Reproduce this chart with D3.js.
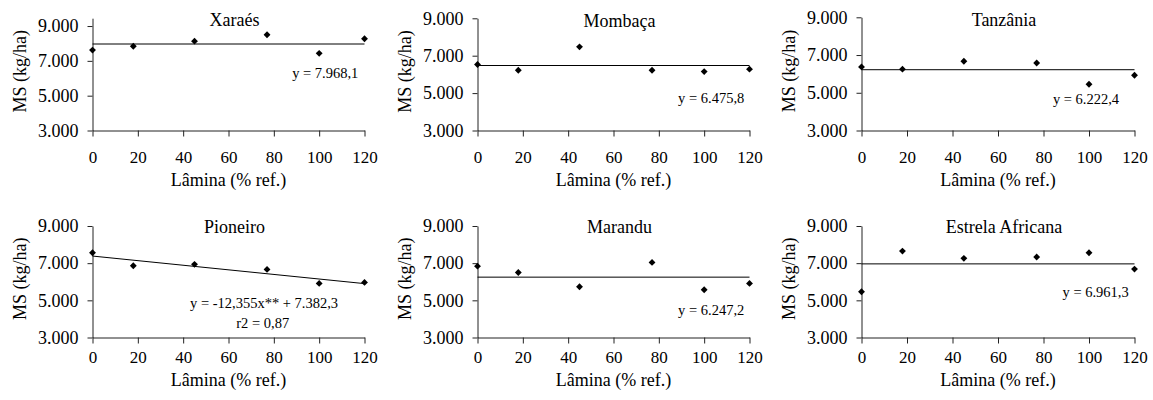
<!DOCTYPE html>
<html>
<head>
<meta charset="utf-8">
<script src="https://cdn.jsdelivr.net/npm/d3@7"></script>
<style>
  body { margin: 0; background: #fff; }
  svg text { font-family: "Liberation Serif", "Times New Roman", serif; fill: #000; }
</style>
</head>
<body>
<div id="graph"></div>
<script>
// lamina de irrigacao (% ref.) e producao de MS (kg/ha) por cultivar
var lamina = [0, 18, 45, 77, 100, 120];
var xTicks = [0, 20, 40, 60, 80, 100, 120];
var yTicks = [3000, 5000, 7000, 9000];
var cultivares = ["Xaraés", "Mombaça", "Tanzânia", "Pioneiro", "Marandu", "Estrela Africana"];

var xaraes   = [7620, 7840, 8130, 8500, 7430, 8270];
var mombaca  = [6530, 6220, 7475, 6220, 6150, 6280];
var tanzania = [6370, 6250, 6670, 6580, 5450, 5930];
var pioneiro = [7560, 6860, 6935, 6665, 5910, 5965];
var marandu  = [6840, 6500, 5730, 7040, 5570, 5910];
var estrela  = [5460, 7650, 7260, 7330, 7560, 6680];
var series = [xaraes, mombaca, tanzania, pioneiro, marandu, estrela];

// ajuste: y = a + b*x
var intercepto = [7968.1, 6475.8, 6222.4, 7382.3, 6247.2, 6961.3];
var inclinacao = [0, 0, 0, -12.355, 0, 0];
var equacoes = [
  ["y = 7.968,1"],
  ["y = 6.475,8"],
  ["y = 6.222,4"],
  ["y = -12,355x** + 7.382,3", "r2 = 0,87"],
  ["y = 6.247,2"],
  ["y = 6.961,3"]
];

// posicao dos paineis e das equacoes (coordenadas de dados para as equacoes)
var layout = [
  {x0: 92.5,  x1: 364.5,  yTop: 18.2,  yBot: 130.5, topVal: 9450, titleY: 26,  tickPad: 14, labelY: 185.5},
  {x0: 477.5, x1: 749.5,  yTop: 18.3,  yBot: 130.5, topVal: 9000, titleY: 26.5, tickPad: 14, labelY: 185.5},
  {x0: 861.5, x1: 1134.5, yTop: 17.3,  yBot: 130.5, topVal: 9000, titleY: 26,  tickPad: 14, labelY: 185.5},
  {x0: 92.5,  x1: 364.5,  yTop: 226,   yBot: 337.5, topVal: 9000, titleY: 233, tickPad: 7,  labelY: 386},
  {x0: 477.5, x1: 749.5,  yTop: 226,   yBot: 337.5, topVal: 9000, titleY: 233, tickPad: 7,  labelY: 386},
  {x0: 861.5, x1: 1134.5, yTop: 226,   yBot: 337.5, topVal: 9000, titleY: 233, tickPad: 7,  labelY: 386}
];
var eqPos = [
  [[102.7, 6020]],
  [[103.1, 4450]],
  [[98.7, 4384]],
  [[75.7, 4563], [75.1, 3485]],
  [[103.1, 4202]],
  [[102.9, 5156]]
];

var width = 1153, height = 400;
var br = d3.formatLocale({decimal: ",", thousands: ".", grouping: [3], currency: ["", ""]});
var fmtY = br.format(",d");

var svg = d3.select("#graph").append("svg")
  .attr("width", width)
  .attr("height", height);

var estiloEixo = function (a, size) {
  a.attr("font-family", null).attr("font-size", null);
  a.select(".domain").attr("stroke", "#222");
  a.selectAll(".tick line").attr("stroke", "#222");
  a.selectAll("text")
    .attr("font-family", "Liberation Serif")
    .style("font-size", size)
    .attr("fill", "#000");
};

cultivares.forEach(function (nome, i) {
  var L = layout[i];
  var x = d3.scaleLinear().domain([0, 120]).range([L.x0, L.x1]);
  // 9000 fica sempre na mesma altura, o eixo pode passar um pouco acima
  var y9 = L.yBot - (L.yBot - L.yTop) * 6000 / (L.topVal - 3000);
  var y = d3.scaleLinear().domain([3000, 9000]).range([L.yBot, y9]);
  var g = svg.append("g");

  // eixo y
  var yAxisScale = d3.scaleLinear().domain([3000, L.topVal]).range([L.yBot, L.yTop]);
  g.append("g")
    .attr("transform", "translate(" + L.x0 + ",0)")
    .call(d3.axisLeft(yAxisScale).tickValues(yTicks).tickFormat(fmtY)
      .tickSize(5).tickSizeOuter(0).tickPadding(9))
    .call(estiloEixo, "18px");

  // eixo x
  g.append("g")
    .attr("transform", "translate(0," + L.yBot + ")")
    .call(d3.axisBottom(x).tickValues(xTicks).tickSize(6).tickSizeOuter(0).tickPadding(L.tickPad))
    .call(estiloEixo, "17px");

  // linha de ajuste
  var ajuste = d3.line()
    .x(function (d) { return x(d); })
    .y(function (d) { return y(intercepto[i] + inclinacao[i] * d); });
  g.append("path")
    .datum([0, 120])
    .attr("d", ajuste)
    .attr("fill", "none")
    .attr("stroke", "#000")
    .attr("stroke-width", 1);

  // pontos
  g.selectAll("path.pt")
    .data(series[i])
    .enter().append("path")
    .attr("class", "pt")
    .attr("transform", function (d, j) { return "translate(" + x(lamina[j]) + "," + y(d) + ")"; })
    .attr("d", d3.symbol().type(d3.symbolDiamond2).size(30))
    .attr("fill", "#000");

  // titulo
  g.append("text")
    .attr("x", (L.x0 + L.x1) / 2 + 6)
    .attr("y", L.titleY)
    .attr("text-anchor", "middle")
    .style("font-size", "18px")
    .text(nome);

  // titulo eixo x
  g.append("text")
    .attr("x", (L.x0 + L.x1) / 2)
    .attr("y", L.labelY)
    .attr("text-anchor", "middle")
    .style("font-size", "18px")
    .text("Lâmina (% ref.)");

  // titulo eixo y
  var cy = (L.yTop + L.yBot) / 2 - 3;
  g.append("text")
    .attr("transform", "translate(" + (L.x0 - 67) + "," + cy + ") rotate(-90)")
    .attr("text-anchor", "middle")
    .style("font-size", "18px")
    .text("MS (kg/ha)");

  // equacoes
  equacoes[i].forEach(function (eq, k) {
    g.append("text")
      .attr("x", x(eqPos[i][k][0]))
      .attr("y", y(eqPos[i][k][1]))
      .attr("text-anchor", "middle")
      .style("font-size", "14.5px")
      .text(eq);
  });
});
</script>
</body>
</html>
